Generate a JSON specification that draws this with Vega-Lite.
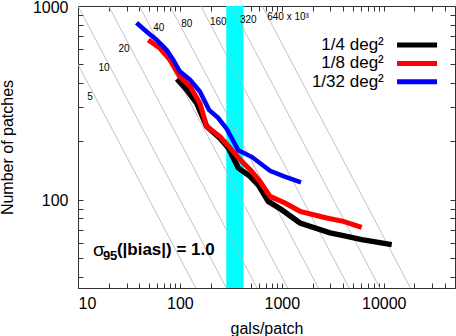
{
  "$schema": "https://vega.github.io/schema/vega-lite/v6.json",
  "autosize": {"type": "none"},
  "width": 377,
  "height": 282,
  "padding": {"left": 78, "top": 6, "right": 1, "bottom": 48},
  "background": "white",
  "config": {
    "view": {"stroke": "#333", "strokeWidth": 1},
    "font": "Liberation Sans",
    "axis": {"domain": true, "domainColor": "#333", "domainWidth": 1, "ticks": false, "labelFont": "Liberation Sans", "labelFontSize": 16, "labelColor": "black", "titleFont": "Liberation Sans", "titleFontSize": 16, "titleFontWeight": "normal", "titleColor": "black"}
  },
  "datasets": {
    "curves": [
      {"series": "1/4 deg²", "g": 93.6, "n": 420},
      {"series": "1/4 deg²", "g": 116.6, "n": 369},
      {"series": "1/4 deg²", "g": 146, "n": 315},
      {"series": "1/4 deg²", "g": 183, "n": 239},
      {"series": "1/4 deg²", "g": 247, "n": 208},
      {"series": "1/4 deg²", "g": 299, "n": 185},
      {"series": "1/4 deg²", "g": 374, "n": 146},
      {"series": "1/4 deg²", "g": 487, "n": 132},
      {"series": "1/4 deg²", "g": 588, "n": 119},
      {"series": "1/4 deg²", "g": 737, "n": 98},
      {"series": "1/4 deg²", "g": 997, "n": 88.8},
      {"series": "1/4 deg²", "g": 1509, "n": 75.8},
      {"series": "1/4 deg²", "g": 2972, "n": 67.4},
      {"series": "1/4 deg²", "g": 4013, "n": 65.2},
      {"series": "1/4 deg²", "g": 6081, "n": 62.2},
      {"series": "1/4 deg²", "g": 11980, "n": 58.6},
      {"series": "1/8 deg²", "g": 49, "n": 668},
      {"series": "1/8 deg²", "g": 63.8, "n": 605},
      {"series": "1/8 deg²", "g": 80, "n": 527},
      {"series": "1/8 deg²", "g": 100, "n": 432},
      {"series": "1/8 deg²", "g": 126, "n": 384},
      {"series": "1/8 deg²", "g": 157, "n": 315},
      {"series": "1/8 deg²", "g": 183, "n": 239},
      {"series": "1/8 deg²", "g": 247, "n": 212},
      {"series": "1/8 deg²", "g": 310, "n": 185},
      {"series": "1/8 deg²", "g": 389, "n": 161},
      {"series": "1/8 deg²", "g": 507, "n": 140},
      {"series": "1/8 deg²", "g": 611, "n": 124},
      {"series": "1/8 deg²", "g": 766, "n": 104},
      {"series": "1/8 deg²", "g": 1075, "n": 96.2},
      {"series": "1/8 deg²", "g": 1509, "n": 87.1},
      {"series": "1/8 deg²", "g": 2758, "n": 80.5},
      {"series": "1/8 deg²", "g": 4013, "n": 77.3},
      {"series": "1/8 deg²", "g": 6081, "n": 72},
      {"series": "1/32 deg²", "g": 37.5, "n": 820},
      {"series": "1/32 deg²", "g": 47.2, "n": 737},
      {"series": "1/32 deg²", "g": 59.2, "n": 668},
      {"series": "1/32 deg²", "g": 74.1, "n": 593},
      {"series": "1/32 deg²", "g": 86, "n": 527},
      {"series": "1/32 deg²", "g": 100, "n": 459},
      {"series": "1/32 deg²", "g": 126, "n": 416},
      {"series": "1/32 deg²", "g": 157, "n": 362},
      {"series": "1/32 deg²", "g": 193, "n": 291},
      {"series": "1/32 deg²", "g": 238, "n": 264},
      {"series": "1/32 deg²", "g": 288, "n": 232},
      {"series": "1/32 deg²", "g": 374, "n": 180},
      {"series": "1/32 deg²", "g": 510, "n": 166},
      {"series": "1/32 deg²", "g": 766, "n": 141},
      {"series": "1/32 deg²", "g": 1051, "n": 132},
      {"series": "1/32 deg²", "g": 1542, "n": 123}
    ],
    "refs": [
      {"P": 5, "g": 5, "n": 1000}, {"P": 5, "g": 142.9, "n": 35},
      {"P": 10, "g": 10, "n": 1000}, {"P": 10, "g": 285.7, "n": 35},
      {"P": 20, "g": 20, "n": 1000}, {"P": 20, "g": 571.4, "n": 35},
      {"P": 40, "g": 40, "n": 1000}, {"P": 40, "g": 1142.9, "n": 35},
      {"P": 80, "g": 80, "n": 1000}, {"P": 80, "g": 2285.7, "n": 35},
      {"P": 160, "g": 160, "n": 1000}, {"P": 160, "g": 4571.4, "n": 35},
      {"P": 320, "g": 320, "n": 1000}, {"P": 320, "g": 9142.9, "n": 35},
      {"P": 640, "g": 640, "n": 1000}, {"P": 640, "g": 18285.7, "n": 35}
    ],
    "reflabels": [
      {"label": "5", "g": 13.1, "n": 340},
      {"label": "10", "g": 18.0, "n": 479},
      {"label": "20", "g": 28.3, "n": 603},
      {"label": "40", "g": 61.9, "n": 767},
      {"label": "80", "g": 116.6, "n": 807},
      {"label": "160", "g": 238, "n": 827},
      {"label": "320", "g": 469, "n": 847},
      {"label": "640 x 10³", "g": 1151, "n": 873}
    ],
    "band": [{"lo": 285, "hi": 420}],
    "one": [{}]
  },
  "resolve": {"axis": {"x": "independent", "y": "independent"}},
  "layer": [
    {
      "data": {"name": "band"},
      "mark": {"type": "rect", "color": "#00ffff"},
      "encoding": {
        "x": {"field": "lo", "type": "quantitative", "scale": {"type": "log", "domain": [10, 50000], "nice": false},
          "axis": {"orient": "bottom", "title": "gals/patch", "titlePadding": 9, "format": "d", "labelPadding": 7,
            "values": [10,20,30,40,50,60,70,80,90,100,200,300,400,500,600,700,800,900,1000,2000,3000,4000,5000,6000,7000,8000,9000,10000,20000,30000,40000],
            "labelExpr": "indexof([10,100,1000,10000], datum.value) >= 0 ? datum.label : ''",
            "grid": true, "gridColor": "#333", "gridWidth": 1, "gridOpacity": 1, "gridDash": [5, 272, 5, 2000]}},
        "x2": {"field": "hi"},
        "y": {"datum": 35, "type": "quantitative", "scale": {"type": "log", "domain": [35, 1000], "nice": false},
          "axis": {"orient": "left", "title": "Number of patches", "titlePadding": 17, "format": "d", "labelPadding": 10, "labelOffset": 1,
            "values": [40,50,60,70,80,90,100,200,300,400,500,600,700,800,900,1000],
            "labelExpr": "indexof([100,1000], datum.value) >= 0 ? datum.label : ''",
            "grid": true, "gridColor": "#333", "gridWidth": 1, "gridOpacity": 1, "gridDash": [5, 367, 5, 2000]}},
        "y2": {"datum": 1000}
      }
    },
    {
      "data": {"name": "refs"},
      "mark": {"type": "line", "color": "#b4b4b4", "strokeWidth": 0.8, "clip": true},
      "encoding": {
        "x": {"field": "g", "type": "quantitative", "axis": null},
        "y": {"field": "n", "type": "quantitative", "axis": null},
        "detail": {"field": "P"}
      }
    },
    {
      "data": {"name": "reflabels"},
      "mark": {"type": "text", "fontSize": 10, "color": "black", "font": "Liberation Sans"},
      "encoding": {
        "x": {"field": "g", "type": "quantitative", "axis": null},
        "y": {"field": "n", "type": "quantitative", "axis": null},
        "text": {"field": "label"}
      }
    },
    {
      "data": {"name": "curves"},
      "mark": {"type": "line", "strokeJoin": "miter"},
      "encoding": {
        "x": {"field": "g", "type": "quantitative", "axis": null},
        "y": {"field": "n", "type": "quantitative", "axis": null},
        "color": {"field": "series", "type": "nominal",
          "scale": {"domain": ["1/4 deg²", "1/8 deg²", "1/32 deg²"], "range": ["#000000", "#ff0000", "#0000ff"]},
          "legend": null},
        "strokeWidth": {"field": "series", "type": "nominal",
          "scale": {"domain": ["1/4 deg²", "1/8 deg²", "1/32 deg²"], "range": [5.5, 4.5, 4.5]},
          "legend": null},
        "order": {"field": "g", "type": "quantitative"}
      }
    },
    {
      "data": {"name": "one"},
      "mark": {"type": "text", "text": "σ", "fontSize": 19, "align": "left", "baseline": "middle", "color": "black", "font": "Liberation Sans"},
      "encoding": {
        "x": {"datum": 14, "type": "quantitative", "axis": null},
        "y": {"datum": 55, "type": "quantitative", "axis": null}
      }
    },
    {
      "data": {"name": "one"},
      "mark": {"type": "text", "text": "95", "fontSize": 13, "fontWeight": "bold", "align": "left", "baseline": "middle", "dx": 10, "dy": 6, "color": "black", "font": "Liberation Sans"},
      "encoding": {
        "x": {"datum": 14, "type": "quantitative", "axis": null},
        "y": {"datum": 55, "type": "quantitative", "axis": null}
      }
    },
    {
      "data": {"name": "one"},
      "mark": {"type": "text", "text": "(|bias|) = 1.0", "fontSize": 17, "fontWeight": "bold", "align": "left", "baseline": "middle", "dx": 24, "color": "black", "font": "Liberation Sans"},
      "encoding": {
        "x": {"datum": 14, "type": "quantitative", "axis": null},
        "y": {"datum": 55, "type": "quantitative", "axis": null}
      }
    },
    {
      "data": {"name": "one"},
      "mark": {"type": "rule", "color": "#000000", "strokeWidth": 5},
      "encoding": {
        "x": {"datum": 13505, "type": "quantitative", "axis": null},
        "x2": {"datum": 33340},
        "y": {"datum": 629, "type": "quantitative", "axis": null}
      }
    },
    {
      "data": {"name": "one"},
      "mark": {"type": "rule", "color": "#ff0000", "strokeWidth": 5},
      "encoding": {
        "x": {"datum": 13505, "type": "quantitative", "axis": null},
        "x2": {"datum": 33340},
        "y": {"datum": 505, "type": "quantitative", "axis": null}
      }
    },
    {
      "data": {"name": "one"},
      "mark": {"type": "rule", "color": "#0000ff", "strokeWidth": 5},
      "encoding": {
        "x": {"datum": 13505, "type": "quantitative", "axis": null},
        "x2": {"datum": 33340},
        "y": {"datum": 406, "type": "quantitative", "axis": null}
      }
    },
    {
      "data": {"name": "one"},
      "mark": {"type": "text", "text": "1/4 deg²", "fontSize": 17, "align": "right", "baseline": "middle", "color": "black", "font": "Liberation Sans"},
      "encoding": {
        "x": {"datum": 10000, "type": "quantitative", "axis": null},
        "y": {"datum": 629, "type": "quantitative", "axis": null}
      }
    },
    {
      "data": {"name": "one"},
      "mark": {"type": "text", "text": "1/8 deg²", "fontSize": 17, "align": "right", "baseline": "middle", "color": "black", "font": "Liberation Sans"},
      "encoding": {
        "x": {"datum": 10000, "type": "quantitative", "axis": null},
        "y": {"datum": 505, "type": "quantitative", "axis": null}
      }
    },
    {
      "data": {"name": "one"},
      "mark": {"type": "text", "text": "1/32 deg²", "fontSize": 17, "align": "right", "baseline": "middle", "color": "black", "font": "Liberation Sans"},
      "encoding": {
        "x": {"datum": 10000, "type": "quantitative", "axis": null},
        "y": {"datum": 406, "type": "quantitative", "axis": null}
      }
    }
  ]
}
